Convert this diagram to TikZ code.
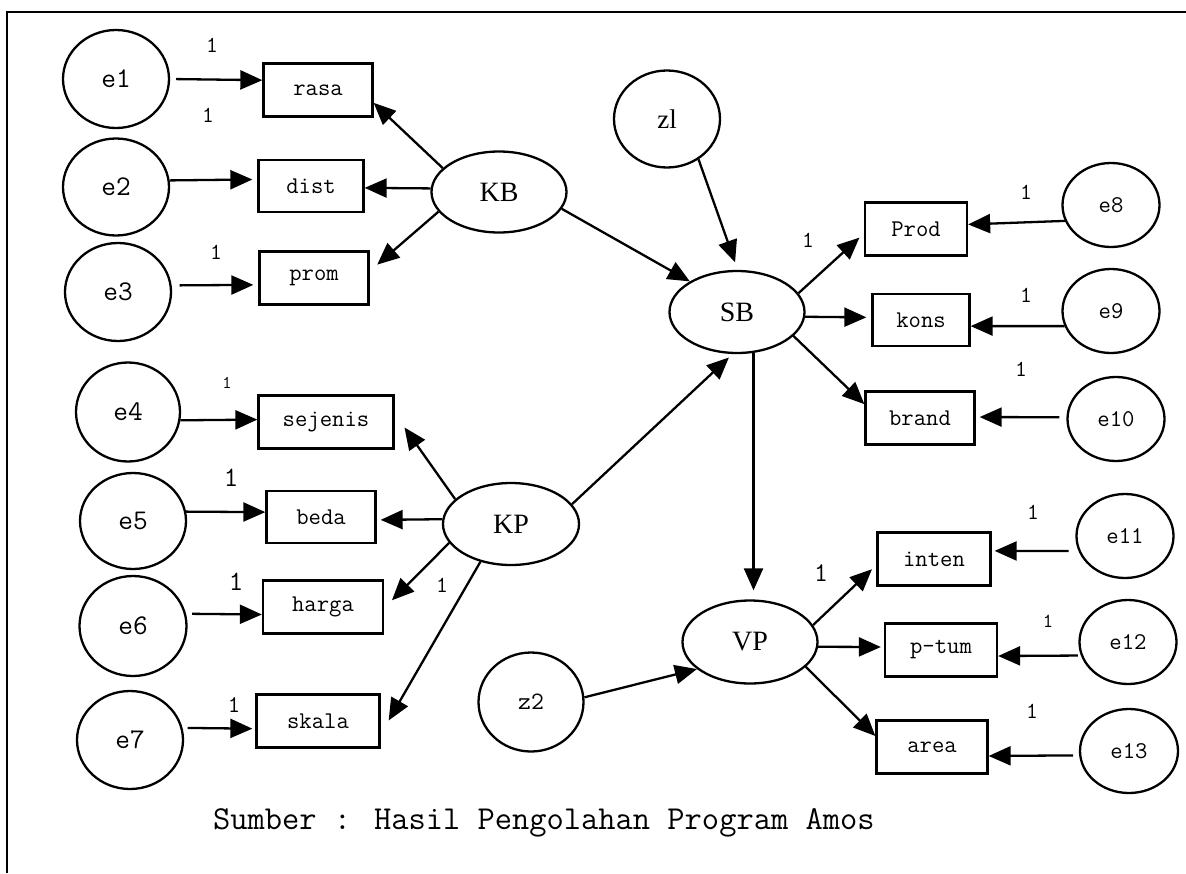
\documentclass[tikz,border=0pt]{standalone}
\usepackage{fontspec}
\setmainfont{Liberation Serif}
\usetikzlibrary{arrows.meta,shapes.geometric}
\begin{document}
\begin{tikzpicture}[x=1pt,y=-1pt,
  lat/.style={ellipse, draw, line width=2.3pt, inner sep=0pt,
    minimum width=135pt, minimum height=82pt, font=\fontsize{28}{30}\selectfont},
  err/.style={ellipse, draw, line width=2.3pt, inner sep=0pt,
    minimum width=106pt, minimum height=98pt, font=\ttfamily\fontsize{28.5}{30}\selectfont},
  errs/.style={err, minimum width=97pt, minimum height=84pt,
    font=\ttfamily\fontsize{24}{26}\selectfont},
  obs/.style={rectangle, draw, line width=2.3pt, inner sep=0pt,
    minimum height=53pt, font=\ttfamily\fontsize{24}{26}\selectfont},
  arr/.style={-{Triangle[length=22pt,width=19pt]}, line width=2.3pt},
  one/.style={font=\ttfamily\fontsize{23}{25}\selectfont, inner sep=0pt},
]
\useasboundingbox (0,0) rectangle (1186,873);
\draw[line width=2.3pt] (1186,12) -- (7,12) -- (7,873);

% error terms of the left indicators
\node[err] (e1) at (116,79) {e1};
\node[err, minimum height=97pt] (e2) at (116,187) {e2};
\node[err] (e3) at (118,292) {e3};
\node[err, minimum width=104pt, minimum height=99pt] (e4) at (128,412) {e4};
\node[err, minimum height=96pt] (e5) at (133,521) {e5};
\node[err, minimum width=107pt, minimum height=100pt] (e6) at (133,626) {e6};
\node[err] (e7) at (130,740) {e7};

% error terms of the right indicators
\node[errs] (e8)  at (1111,205) {e8};
\node[errs] (e9)  at (1111,311) {e9};
\node[errs] (e10) at (1116,419) {e10};
\node[errs] (e11) at (1125,536) {e11};
\node[errs] (e12) at (1128,642) {e12};
\node[errs, minimum width=98pt] (e13) at (1129,751) {e13};

% disturbances
\node[err, minimum height=97pt, font=\fontsize{27}{29}\selectfont] (z1) at (667,119) {zl};
\node[err, minimum width=105pt, minimum height=99pt, font=\ttfamily\fontsize{25}{27}\selectfont] (z2) at (531,702) {z2};

% latent variables
\node[lat, minimum height=81pt] (KB) at (499,192) {KB};
\node[lat] (SB) at (737,312) {SB};
\node[lat, minimum width=136pt] (KP) at (511,524) {KP};
\node[lat, minimum height=83pt] (VP) at (750,642) {VP};

% observed indicators
\node[obs, minimum width=109pt] (rasa)    at (318,90)  {rasa};
\node[obs, minimum width=105pt, minimum height=52pt] (dist) at (311,186) {dist};
\node[obs, minimum width=109pt] (prom)    at (314,278) {prom};
\node[obs, minimum width=135pt] (sejenis) at (326,422) {sejenis};
\node[obs, minimum width=109pt, minimum height=52pt] (beda) at (321,517) {beda};
\node[obs, minimum width=120pt] (harga)   at (323,607) {harga};
\node[obs, minimum width=123pt] (skala)   at (318,721) {skala};
\node[obs, minimum width=102pt] (Prod)    at (916,229) {Prod};
\node[obs, minimum width=97pt, minimum height=52pt] (kons) at (921,320) {kons};
\node[obs, minimum width=109pt] (brand)   at (920,418) {brand};
\node[obs, minimum width=113pt] (inten)   at (934,559) {inten};
\node[obs, minimum width=112pt] (ptum)    at (941,650) {p-tum};
\node[obs, minimum width=111pt] (area)    at (932,747) {area};

% errors into left indicators
\draw[arr, shorten <=6pt] (e1.0) -- (rasa.170);
\draw[arr, shorten >=5pt] (e2.7) -- (dist.173);
\draw[arr, shorten <=8pt, shorten >=5pt] (e3.7) -- (prom.187);
\draw[arr] (e4.-9) -- (sejenis.178);
\draw[arr] (e5.10) -- (beda.175);
\draw[arr, shorten <=6pt] (e6.13) -- (harga.187);
\draw[arr, shorten <=5pt, shorten >=3pt] (e7.13) -- (skala.187);

% KB and its indicators
\draw[arr] (KB.157) -- (rasa.-13);
\draw[arr] (KB.177) -- (dist.-2);
\draw[arr, shorten >=10pt] (KB.198) -- (prom.7);

% KP and its indicators
\draw[arr, shorten >=17pt] (KP.156) -- (sejenis.7);
\draw[arr, shorten >=4pt] (KP.176) -- (beda.-3);
\draw[arr, shorten >=11pt] (KP.197) -- (harga.-1);
\draw[arr, shorten >=16pt] (KP.231) -- (skala.-12);

% structural paths
\draw[arr] (KB.-15) -- (SB.147);
\draw[arr, shorten >=8pt] (z1.-52) -- (SB.89);
\draw[arr, shorten >=5pt] (KP.18) -- (SB.-96);
\draw[arr, shorten >=9pt] (SB.-68) -- (SB.-68 |- VP.north);
\draw[arr] (z2.5) -- (VP.207);

% SB and its indicators
\draw[arr, shorten >=6pt] (SB.17) -- (Prod.185);
\draw[arr, shorten >=5pt] (SB.-4) -- (kons.177);
\draw[arr] (SB.-23) -- (brand.166);

% VP and its indicators
\draw[arr, shorten >=6pt] (VP.15) -- (inten.186);
\draw[arr, shorten >=3pt] (VP.-4) -- (ptum.177);
\draw[arr] (VP.-24) -- (area.169);

% errors into right indicators
\draw[arr] (e8.199) -- (Prod.5);
\draw[arr] (e9.198) -- (kons.-7);
\draw[arr, shorten <=7pt, shorten >=4pt] (e10.178) -- (brand.1);
\draw[arr, shorten <=10pt, shorten >=3pt] (e11.198) -- (inten.8);
\draw[arr, shorten <=3pt] (e12.196) -- (ptum.-6);
\draw[arr, shorten <=6pt] (e13.185) -- (area.-9);

% fixed loadings
\node[one] (l1) at (212,45) {1};
\node[one] (l2) at (208,115) {1};
\node[one] (l3) at (216,252) {1};
\node[one, font=\ttfamily\fontsize{18}{20}\selectfont] (l4) at (227,383) {1};
\node[one, font=\ttfamily\fontsize{28}{30}\selectfont] (l5) at (231,478) {1};
\node[one, font=\ttfamily\fontsize{28}{30}\selectfont] (l6) at (236,582) {1};
\node[one, font=\ttfamily\fontsize{24}{26}\selectfont] (l7) at (234,705) {1};
\node[one] (lkp) at (442,585) {1};
\node[one] (lsb) at (808,240) {1};
\node[one] (l8) at (1026,192) {1};
\node[one] (l9) at (1026,295) {1};
\node[one] (l10) at (1021,369) {1};
\node[one] (l11) at (1033,512) {1};
\node[one, font=\ttfamily\fontsize{20}{22}\selectfont] (l12) at (1048,621) {1};
\node[one] (l13) at (1032,711) {1};
\node[one, font=\ttfamily\fontsize{27}{29}\selectfont] (lvp) at (821,573) {1};

% source note
\node[anchor=base west, inner sep=0pt, font=\ttfamily\fontsize{33.5}{35}\selectfont]
  (src) at (213,829) {Sumber : Hasil Pengolahan Program Amos};
\end{tikzpicture}
\end{document}
